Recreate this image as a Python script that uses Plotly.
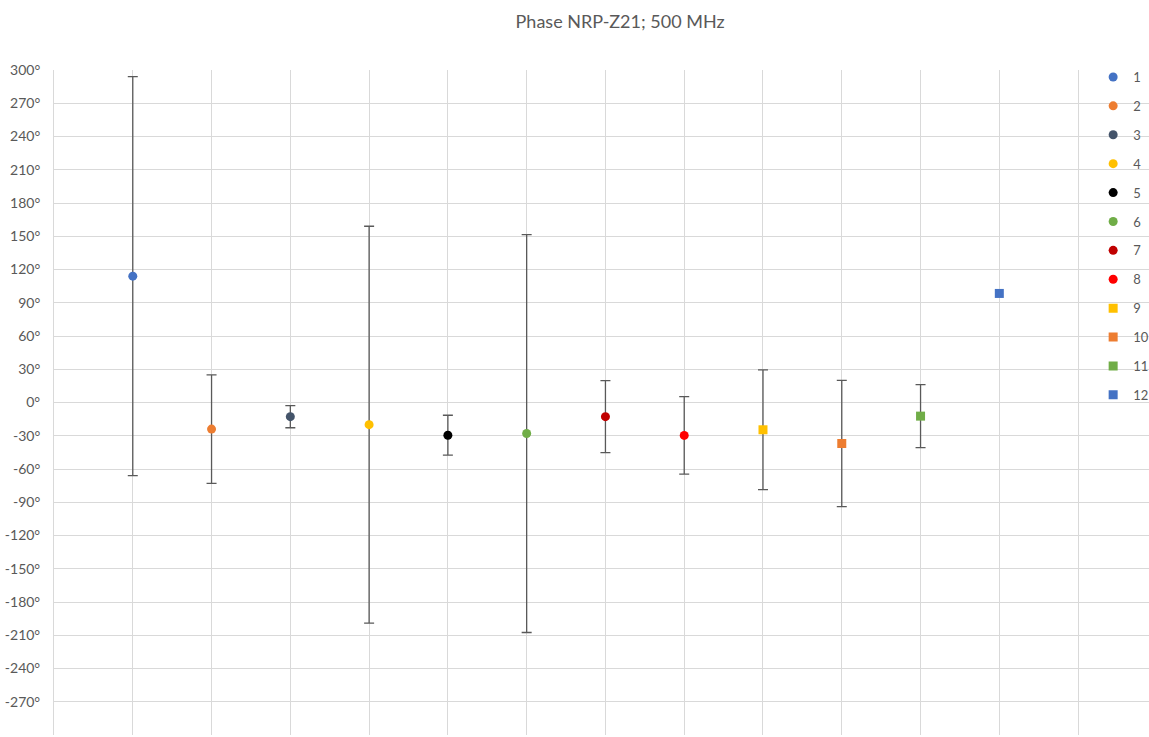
import plotly.graph_objects as go

# Phase measurements per device (degrees) with symmetric uncertainty
devices = ["1", "2", "3", "4", "5", "6", "7", "8", "9", "10", "11", "12"]
positions = [1, 2, 3, 4, 5, 6, 7, 8, 9, 10, 11, 12]
phase_deg = [114, -24, -12.8, -20, -29.5, -28, -12.8, -29.7, -24.6, -37, -12.3, 98.4]
uncert_deg = [180, 49, 10, 179, 18, 179.5, 32.5, 35, 54, 57, 28.5, None]
symbols = ["circle"] * 8 + ["square"] * 4
colors = ["#4472C4", "#ED7D31", "#44546A", "#FFC000", "#000000", "#70AD47",
          "#C00000", "#FF0000", "#FFC000", "#ED7D31", "#70AD47", "#4472C4"]

y_ticks = list(range(-300, 301, 30))
y_tick_text = [f"{v}°" for v in y_ticks]

fig = go.Figure()
for i, name in enumerate(devices):
    err = None
    if uncert_deg[i] is not None:
        err = dict(type="data", array=[uncert_deg[i]], symmetric=True,
                   color="#595959", thickness=1.3, width=5)
    fig.add_trace(go.Scatter(
        x=[positions[i]], y=[phase_deg[i]], name=name, mode="markers",
        legendgroup=name,
        marker=dict(symbol=symbols[i], color=colors[i], size=9,
                    line=dict(width=0)),
        error_y=err,
    ))

fig.update_layout(
    width=1149, height=737,
    paper_bgcolor="white", plot_bgcolor="white",
    margin=dict(l=54, r=0, t=70, b=2, autoexpand=False),
    font=dict(family="Lato, Open Sans, sans-serif", color="#595959", size=12),
    title=dict(text="Phase NRP-Z21; 500 MHz", x=0.517, xref="paper",
               xanchor="center", y=0.971, yanchor="middle",
               font=dict(size=18, color="#595959")),
    xaxis=dict(range=[0, 13.9], tickvals=list(range(0, 14)), showticklabels=False,
               showgrid=True, gridcolor="#D9D9D9", gridwidth=1, zeroline=False,
               showline=False, ticks=""),
    yaxis=dict(range=[-300, 300], tickvals=y_ticks, ticktext=y_tick_text,
               showgrid=True, gridcolor="#D9D9D9", gridwidth=1, zeroline=False,
               showline=True, linecolor="#D9D9D9", linewidth=1,
               ticks="", ticklabelstandoff=10,
               tickfont=dict(size=14, color="#595959")),
    showlegend=True,
    legend=dict(x=0.949, y=1.012, xanchor="left", yanchor="top",
                bgcolor="rgba(0,0,0,0)", tracegroupgap=9,
                font=dict(size=13, color="#595959")),
)

fig.write_html("out.html")
